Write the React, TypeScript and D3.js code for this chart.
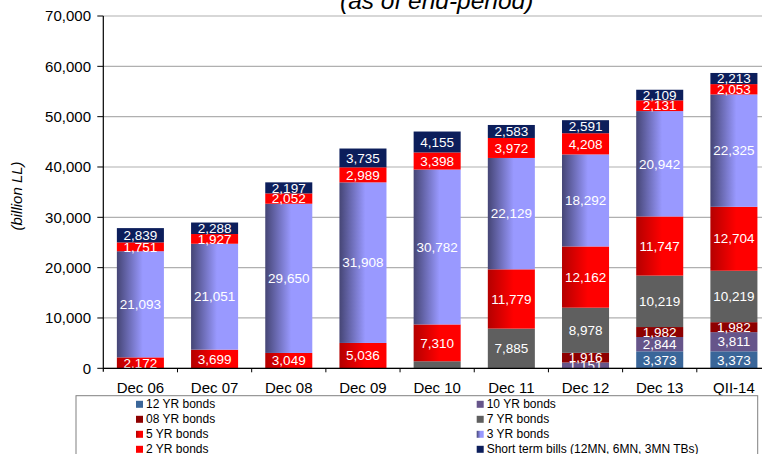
import React from "react";
import * as d3 from "d3";

const categories = ["Dec 06", "Dec 07", "Dec 08", "Dec 09", "Dec 10", "Dec 11", "Dec 12", "Dec 13", "QII-14"];

const bonds12Y = [0, 0, 0, 0, 0, 0, 0, 3373, 3373];
const bonds10Y = [0, 0, 0, 0, 0, 0, 1151, 2844, 3811];
const bonds08Y = [0, 0, 0, 0, 0, 0, 1916, 1982, 1982];
const bonds7Y = [0, 0, 0, 0, 1400, 7885, 8978, 10219, 10219];
const bonds5Y = [2172, 3699, 3049, 5036, 7310, 11779, 12162, 11747, 12704];
const bonds3Y = [21093, 21051, 29650, 31908, 30782, 22129, 18292, 20942, 22325];
const bonds2Y = [1751, 1927, 2052, 2989, 3398, 3972, 4208, 2131, 2053];
const shortTerm = [2839, 2288, 2197, 3735, 4155, 2583, 2591, 2109, 2213];

const seriesNames = [
  "12 YR bonds",
  "10 YR bonds",
  "08 YR bonds",
  "7 YR bonds",
  "5 YR bonds",
  "3 YR bonds",
  "2 YR bonds",
  "Short term bills (12MN, 6MN, 3MN TBs)",
];
const seriesValues = [bonds12Y, bonds10Y, bonds08Y, bonds7Y, bonds5Y, bonds3Y, bonds2Y, shortTerm];
// labels not shown in the reference
const hiddenLabels = [["7 YR bonds", "Dec 10"]];

const yTicks = [0, 10000, 20000, 30000, 40000, 50000, 60000, 70000];
const title = "(as of end-period)";
const yTitle = "(billion LL)";

const fills = ["#3a6699", "#66558a", "#8e0000", "#5f5f5f", "url(#g5y)", "url(#g3y)", "#ff0000", "#0c1e5b"];
// legend layout order: two columns
const legendOrder = [0, 1, 2, 3, 4, 5, 6, 7];

const FONT = "'Liberation Sans', Arial, Helvetica, sans-serif";

export default function App() {
  const W = 762;
  const H = 454;
  const left = 103.3;
  const right = 771;
  const top = 16;
  const bottom = 368.3;

  const x = d3.scaleBand<string>().domain(categories).range([left, right]).paddingInner(0.366).paddingOuter(0.183);
  const y = d3.scaleLinear().domain([0, 70000]).range([bottom, top]);
  const fmt = d3.format(",");

  const rows = categories.map((c, i) => {
    const o: Record<string, number | string> = { cat: c };
    seriesNames.forEach((s, k) => (o[s] = seriesValues[k][i]));
    return o;
  });
  const stacked = d3.stack<Record<string, number | string>>().keys(seriesNames)(rows as any);

  const isHidden = (s: string, c: string) => hiddenLabels.some(([a, b]) => a === s && b === c);
  const step = x.step();

  return (
    <svg width={W} height={H} style={{ position: "absolute", left: 0, top: 0, fontFamily: FONT }}>
      <defs>
        <linearGradient id="g3y" x1="0" y1="0" x2="1" y2="0">
          <stop offset="0%" stopColor="#454575" />
          <stop offset="55%" stopColor="#9999ff" />
          <stop offset="100%" stopColor="#9999ff" />
        </linearGradient>
        <linearGradient id="g5y" x1="0" y1="0" x2="1" y2="0">
          <stop offset="0%" stopColor="#b40000" />
          <stop offset="55%" stopColor="#ff0000" />
          <stop offset="100%" stopColor="#ff0000" />
        </linearGradient>
        <clipPath id="plotClip">
          <rect x={left} y={0} width={right - left} height={bottom - 0} />
        </clipPath>
      </defs>
      <rect x={0} y={0} width={W} height={H} fill="#fff" />

      {/* title */}
      <text x={436.7} y={9} textAnchor="middle" fontSize={24.5} fontStyle="italic" fill="#000">
        {title}
      </text>

      {/* gridlines */}
      {yTicks.map((t) => (
        <line key={t} x1={left} x2={right} y1={y(t)} y2={y(t)} stroke="#b0b0b0" strokeWidth={1.2} />
      ))}

      {/* bars */}
      {stacked.map((layer, k) => (
        <g key={layer.key} fill={fills[k]}>
          {layer.map((d, i) => {
            const v = d[1] - d[0];
            if (v <= 0) return null;
            return (
              <rect
                key={i}
                x={x(categories[i])}
                width={x.bandwidth()}
                y={y(d[1])}
                height={y(d[0]) - y(d[1])}
              />
            );
          })}
        </g>
      ))}

      {/* labels */}
      <g clipPath="url(#plotClip)">
        {stacked.map((layer, k) =>
          layer.map((d, i) => {
            const v = d[1] - d[0];
            if (v <= 0 || isHidden(seriesNames[k], categories[i])) return null;
            const cy = (y(d[0]) + y(d[1])) / 2;
            return (
              <text
                key={layer.key + i}
                x={(x(categories[i]) as number) + x.bandwidth() / 2}
                y={cy}
                dy="0.35em"
                textAnchor="middle"
                fontSize={13.5}
                fill="#fff"
              >
                {fmt(v)}
              </text>
            );
          })
        )}
      </g>

      {/* axes */}
      <line x1={left} x2={left} y1={top} y2={bottom + 3.5} stroke="#000" strokeWidth={1.2} />
      <line x1={left} x2={right} y1={bottom} y2={bottom} stroke="#000" strokeWidth={1.2} />
      {yTicks.map((t) => (
        <g key={"yt" + t}>
          <line x1={left - 6} x2={left} y1={y(t)} y2={y(t)} stroke="#000" strokeWidth={1} />
          <text x={91} y={y(t)} dy="0.36em" textAnchor="end" fontSize={15} fill="#000">
            {fmt(t)}
          </text>
        </g>
      ))}
      {categories.map((c, i) => (
        <g key={"xt" + c}>
          <line
            x1={left + step * (i + 1)}
            x2={left + step * (i + 1)}
            y1={bottom}
            y2={bottom + 4}
            stroke="#000"
            strokeWidth={1}
          />
          <text
            x={(x(c) as number) + x.bandwidth() / 2}
            y={393.3}
            textAnchor="middle"
            fontSize={15}
            fill="#000"
          >
            {c}
          </text>
        </g>
      ))}

      {/* y title */}
      <text
        transform={`translate(22,196) rotate(-90)`}
        textAnchor="middle"
        fontSize={15}
        fontStyle="italic"
        fill="#000"
      >
        {yTitle}
      </text>

      {/* legend */}
      <rect x={76} y={395.7} width={681.7} height={70} fill="#fff" stroke="#808080" strokeWidth={1} />
      {legendOrder.map((k, j) => {
        const col = j % 2;
        const row = Math.floor(j / 2);
        const mx = col === 0 ? 136 : 476.7;
        const by = 408.3 + row * 15;
        return (
          <g key={"lg" + k}>
            <rect x={mx} y={by - 7.5} width={7} height={7} fill={fills[k]} />
            <text x={mx + 10} y={by} fontSize={12} fill="#000">
              {seriesNames[k]}
            </text>
          </g>
        );
      })}
    </svg>
  );
}
